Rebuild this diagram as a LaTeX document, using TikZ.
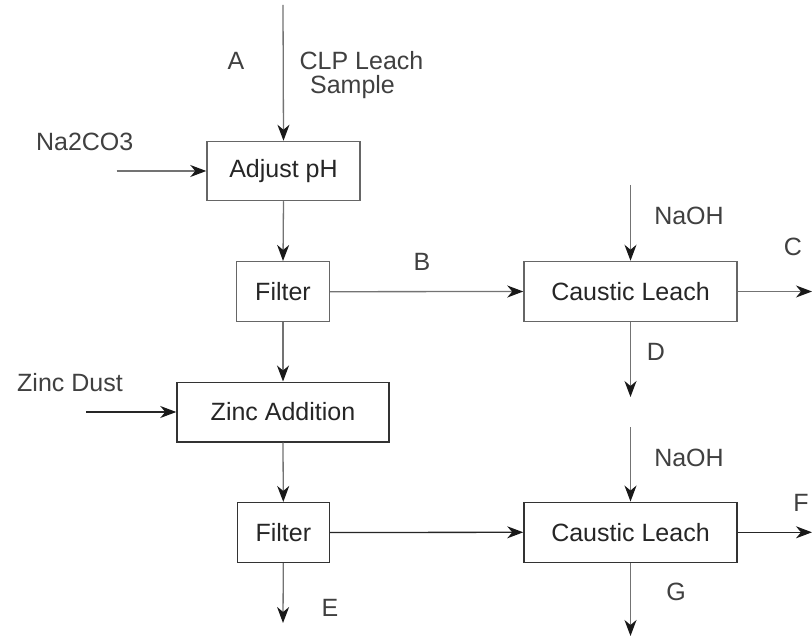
\documentclass[tikz,border=0pt]{standalone}
\usepackage{fontspec}
\setmainfont{Liberation Sans}
\usetikzlibrary{arrows.meta}
\begin{document}
\begin{tikzpicture}[x=1pt,y=-1pt,
  every node/.style={font=\fontsize{25}{30}\selectfont, inner sep=0pt},
  procbox/.style={draw=black!60, fill=white, line width=1.5pt, rectangle, text=black!85},
  darkbox/.style={procbox, draw=black!80},
  lbl/.style={text=black!75},
  flow/.style={draw=black!55, line width=1.3pt, -{Stealth[length=16pt,width=12pt,inset=5pt,black!90]}},
  darkflow/.style={flow, draw=black!85}]
\useasboundingbox (0,0) rectangle (812,639);
\fill[white] (0,0) rectangle (812,639);

% boxes
\node[procbox, minimum width=153pt, minimum height=59pt] (adj) at (283.5,171) {Adjust pH};
\node[procbox, minimum width=92.6pt, minimum height=60pt] (f1) at (283,291.7) {Filter};
\node[procbox, minimum width=213pt, minimum height=60pt] (cl1) at (630.5,291.5) {Caustic Leach};
\node[darkbox, minimum width=212pt, minimum height=59.5pt] (zn) at (283,412) {Zinc Addition};
\node[darkbox, minimum width=92pt, minimum height=59.6pt] (f2) at (283.3,532.5) {Filter};
\node[darkbox, minimum width=213pt, minimum height=60pt] (cl2) at (630.5,532.3) {Caustic Leach};

% free ends
\coordinate (inA) at (283,5);
\coordinate (inNa) at (116.7,171);
\coordinate (inZn) at (86,412);
\coordinate (naoh1) at (630.5,185);
\coordinate (naoh2) at (630.5,427);
\coordinate (outC) at (812,291.5);
\coordinate (outD) at (630.5,397);
\coordinate (outE) at (283,623);
\coordinate (outF) at (812,532.3);
\coordinate (outG) at (630.5,636);

% connectors
\draw[flow] (inA) -- (adj.north);
\draw[flow] (inNa) -- (adj.west);
\draw[flow] (adj.south) -- (f1.north);
\draw[flow] (f1.east) -- (cl1.west);
\draw[flow] (naoh1) -- (cl1.north);
\draw[flow] (cl1.east) -- (outC);
\draw[flow] (cl1.south) -- (outD);
\draw[flow] (f1.south) -- (zn.north);
\draw[darkflow] (inZn) -- (zn.west);
\draw[flow] (zn.south) -- (f2.north);
\draw[flow] (f2.south) -- (outE);
\draw[darkflow] (f2.east) -- (cl2.west);
\draw[flow] (naoh2) -- (cl2.north);
\draw[darkflow] (cl2.east) -- (outF);
\draw[flow] (cl2.south) -- (outG);

% labels
\node[lbl] (lA) at (236,61) {A};
\node[lbl, anchor=base] (lclp) at (361.5,70) {CLP Leach};
\node[lbl, anchor=base] (lsam) at (352.5,94) {Sample};
\node[lbl] (lNa) at (84.7,142) {Na2CO3};
\node[lbl] (lZn) at (70,382.5) {Zinc Dust};
\node[lbl] (lB) at (422,262) {B};
\node[lbl] (lnaoh1) at (689,215.7) {NaOH};
\node[lbl] (lC) at (793,247) {C};
\node[lbl] (lD) at (656,352) {D};
\node[lbl] (lnaoh2) at (689,458) {NaOH};
\node[lbl] (lF) at (801,503) {F};
\node[lbl] (lE) at (330,608) {E};
\node[lbl] (lG) at (676,592) {G};
\end{tikzpicture}
\end{document}
